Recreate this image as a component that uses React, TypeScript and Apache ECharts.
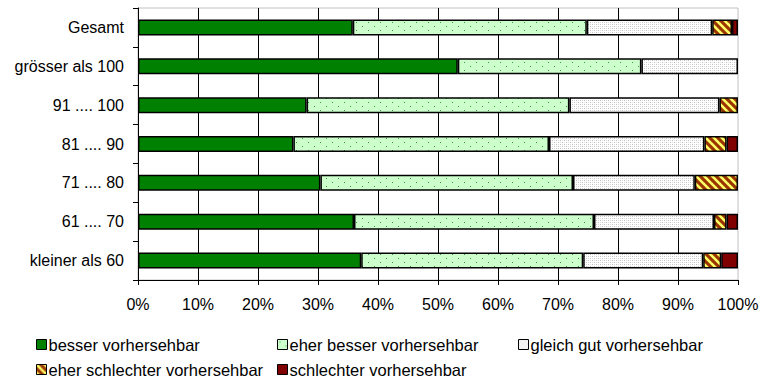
import React, { useEffect, useRef } from "react";
import * as echarts from "echarts";

const categories = [
  "Gesamt",
  "grösser als 100",
  "91 .... 100",
  "81 .... 90",
  "71 .... 80",
  "61 .... 70",
  "kleiner als 60",
];

const besser = [35.8, 53.3, 28.1, 25.9, 30.4, 36.0, 37.2];
const eherBesser = [39.0, 30.6, 43.8, 42.6, 42.1, 40.0, 37.0];
const gleich = [20.9, 16.1, 25.0, 25.9, 20.3, 20.0, 20.0];
const eherSchlechter = [3.3, 0, 3.1, 3.7, 7.2, 2.1, 3.0];
const schlechter = [1.0, 0, 0, 1.9, 0, 1.9, 2.8];

const seriesNames = [
  "besser vorhersehbar",
  "eher besser vorhersehbar",
  "gleich gut vorhersehbar",
  "eher schlechter vorhersehbar",
  "schlechter vorhersehbar",
];

const FONT = "'Liberation Sans', Arial, sans-serif";

function makeTile(w: number, h: number, draw: (ctx: CanvasRenderingContext2D) => void) {
  const c = document.createElement("canvas");
  c.width = w;
  c.height = h;
  const ctx = c.getContext("2d")!;
  draw(ctx);
  return {
    image: c.toDataURL(),
    repeat: "repeat",
    imageWidth: w,
    imageHeight: h,
  } as any;
}

function buildFills() {
  const dots = makeTile(12, 8, (ctx) => {
    ctx.fillStyle = "#ccffcc";
    ctx.fillRect(0, 0, 12, 8);
    ctx.fillStyle = "#3a9a3a";
    ctx.fillRect(2, 2, 1, 1);
    ctx.fillRect(8, 6, 1, 1);
  });
  const grey = makeTile(4, 4, (ctx) => {
    ctx.fillStyle = "#ffffff";
    ctx.fillRect(0, 0, 4, 4);
    ctx.fillStyle = "#c0c0c0";
    ctx.fillRect(0, 0, 1, 1);
    ctx.fillRect(2, 2, 1, 1);
    ctx.fillStyle = "#dcdcdc";
    ctx.fillRect(2, 0, 1, 1);
    ctx.fillRect(0, 2, 1, 1);
  });
  const hatch = makeTile(8, 8, (ctx) => {
    ctx.fillStyle = "#993300";
    ctx.fillRect(0, 0, 8, 8);
    ctx.strokeStyle = "#ffff66";
    ctx.lineWidth = 2.6;
    for (let k = -1; k <= 1; k++) {
      ctx.beginPath();
      ctx.moveTo(k * 8 - 4, -4);
      ctx.lineTo(k * 8 + 12, 12);
      ctx.stroke();
    }
  });
  return ["#008000", dots, grey, hatch, "#800000"];
}

export default function App() {
  const ref = useRef<HTMLDivElement>(null);

  useEffect(() => {
    document.body.style.margin = "0";
    if (!ref.current) return;
    const chart = echarts.init(ref.current, null, { renderer: "svg" });
    const fills = buildFills();
    const values = [besser, eherBesser, gleich, eherSchlechter, schlechter];

    const series = seriesNames.map((name, i) => ({
      name,
      type: "bar",
      stack: "total",
      barWidth: 16,
      data: values[i].map((v) => (v === 0 ? "-" : v)),
      itemStyle: {
        color: fills[i],
        borderColor: "#000",
        borderWidth: 1.5,
      },
      emphasis: { disabled: true },
    }));

    const legendPos = [
      { left: 36, top: 336 },
      { left: 277, top: 336 },
      { left: 518, top: 336 },
      { left: 36, top: 361 },
      { left: 277, top: 361 },
    ];

    const legends = seriesNames.map((name, i) => ({
      data: [name],
      left: legendPos[i].left,
      top: legendPos[i].top,
      padding: 0,
      itemWidth: 10,
      itemHeight: 10,
      icon: "rect",
      selectedMode: false,
      itemStyle: { borderColor: "#000", borderWidth: 1 },
      textStyle: { fontSize: 16.5, fontFamily: FONT, color: "#000", padding: [0, 0, 0, -3] },
    }));

    chart.setOption({
      animation: false,
      grid: {
        left: 138,
        right: 26,
        top: 8,
        bottom: 98,
        show: true,
        borderColor: "#c0c0c0",
        borderWidth: 1,
      },
      legend: legends,
      xAxis: {
        type: "value",
        min: 0,
        max: 100,
        interval: 10,
        axisLine: { show: true, lineStyle: { color: "#000", width: 1 } },
        axisTick: { show: true, length: 5, lineStyle: { color: "#000" } },
        axisLabel: {
          formatter: "{value}%",
          fontSize: 16,
          fontFamily: FONT,
          color: "#000",
          margin: 16,
        },
        splitLine: {
          show: true,
          showMaxLine: false,
          lineStyle: { color: "#000", width: 1 },
        },
      },
      yAxis: {
        type: "category",
        inverse: true,
        data: categories,
        axisLine: { show: true, lineStyle: { color: "#000", width: 1 } },
        axisTick: { show: true, length: 5, lineStyle: { color: "#000" } },
        axisLabel: {
          fontSize: 16,
          fontFamily: FONT,
          color: "#000",
          margin: 14,
        },
        splitLine: { show: false },
      },
      series,
    });

    return () => chart.dispose();
  }, []);

  return <div ref={ref} style={{ width: 764, height: 378 }} />;
}
